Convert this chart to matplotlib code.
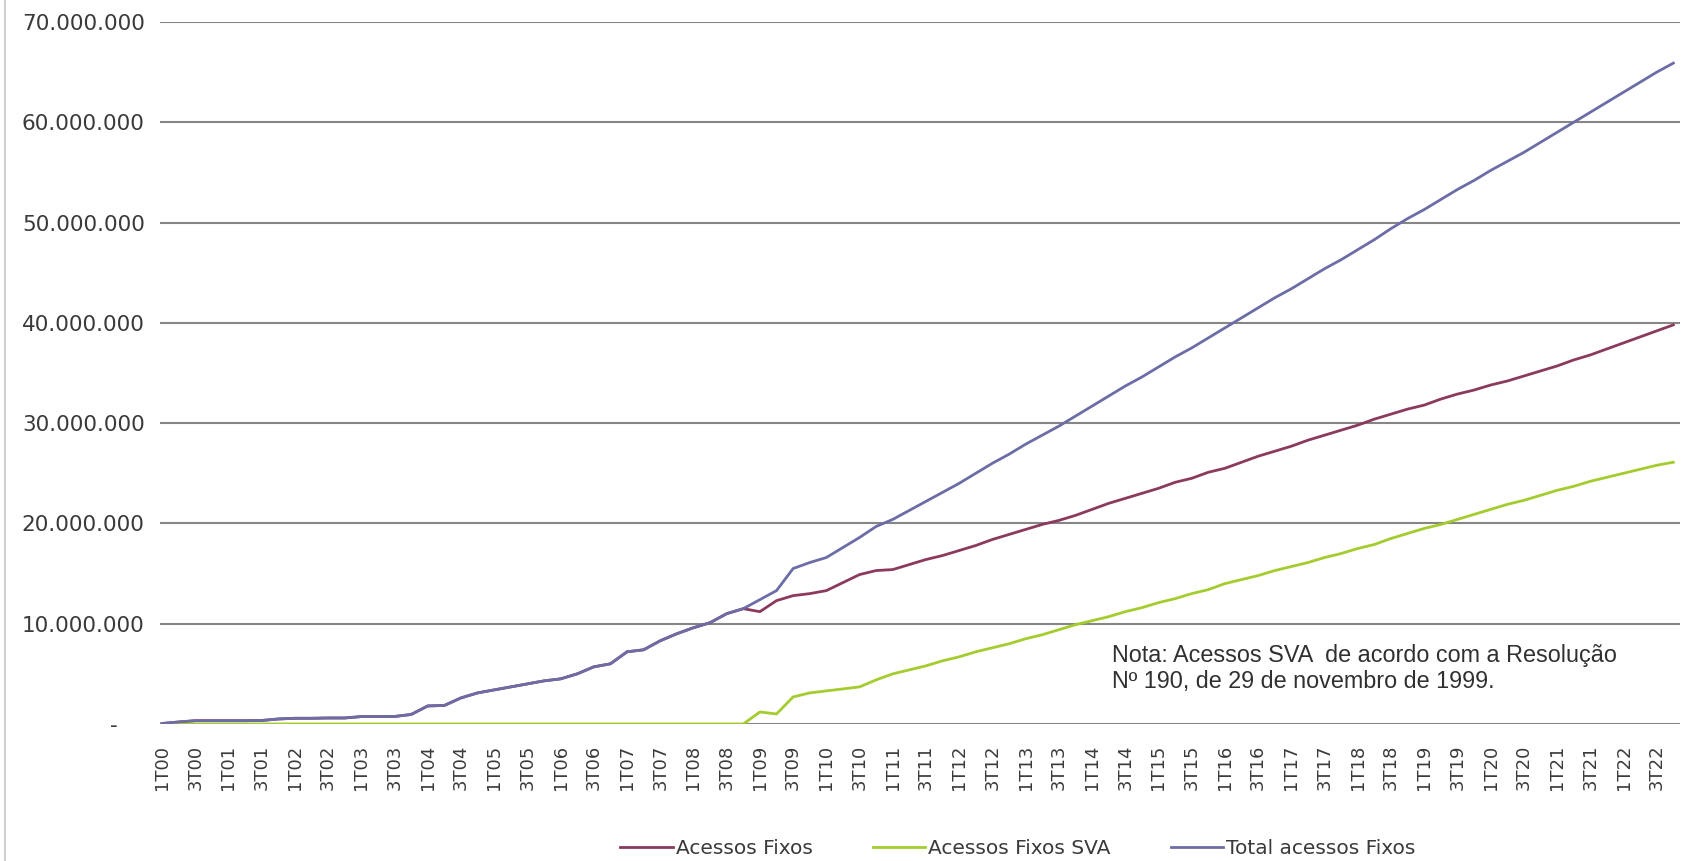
import numpy as np
import matplotlib
matplotlib.use('Agg')
import matplotlib.pyplot as plt
from matplotlib.ticker import FuncFormatter

# Trimestres de 1T00 a 4T22
trimestres = [f"{q}T{a:02d}" for a in range(0, 23) for q in range(1, 5)]

# Valores em milhões de acessos
total = [0.05, 0.2, 0.33, 0.33, 0.33, 0.33, 0.35, 0.5, 0.57, 0.57,
         0.6, 0.6, 0.74, 0.74, 0.75, 0.95, 1.8, 1.85, 2.6, 3.1,
         3.4, 3.7, 4.0, 4.3, 4.5, 5.0, 5.7, 6.0, 7.2, 7.4,
         8.3, 9.0, 9.6, 10.1, 11.0, 11.5, 12.4, 13.3, 15.5, 16.1,
         16.6, 17.6, 18.6, 19.7, 20.4, 21.3, 22.2, 23.1, 24.0, 25.0,
         26.0, 26.9, 27.9, 28.8, 29.7, 30.7, 31.7, 32.7, 33.7, 34.6,
         35.6, 36.6, 37.5, 38.5, 39.5, 40.5, 41.5, 42.5, 43.4, 44.4,
         45.4, 46.3, 47.3, 48.3, 49.4, 50.4, 51.3, 52.3, 53.3, 54.2,
         55.2, 56.1, 57.0, 58.0, 59.0, 60.0, 61.0, 62.0, 63.0, 64.0,
         65.0, 65.9]

sva = [0.0] * 36 + [
         1.2, 1.0, 2.7, 3.1, 3.3, 3.5, 3.7, 4.4, 5.0, 5.4,
         5.8, 6.3, 6.7, 7.2, 7.6, 8.0, 8.5, 8.9, 9.4, 9.9,
         10.3, 10.7, 11.2, 11.6, 12.1, 12.5, 13.0, 13.4, 14.0, 14.4,
         14.8, 15.3, 15.7, 16.1, 16.6, 17.0, 17.5, 17.9, 18.5, 19.0,
         19.5, 19.9, 20.4, 20.9, 21.4, 21.9, 22.3, 22.8, 23.3, 23.7,
         24.2, 24.6, 25.0, 25.4, 25.8, 26.1]

fixos = [0.05, 0.2, 0.33, 0.33, 0.33, 0.33, 0.35, 0.5, 0.57, 0.57,
         0.6, 0.6, 0.74, 0.74, 0.75, 0.95, 1.8, 1.85, 2.6, 3.1,
         3.4, 3.7, 4.0, 4.3, 4.5, 5.0, 5.7, 6.0, 7.2, 7.4,
         8.3, 9.0, 9.6, 10.1, 11.0, 11.5, 11.2, 12.3, 12.8, 13.0,
         13.3, 14.1, 14.9, 15.3, 15.4, 15.9, 16.4, 16.8, 17.3, 17.8,
         18.4, 18.9, 19.4, 19.9, 20.3, 20.8, 21.4, 22.0, 22.5, 23.0,
         23.5, 24.1, 24.5, 25.1, 25.5, 26.1, 26.7, 27.2, 27.7, 28.3,
         28.8, 29.3, 29.8, 30.4, 30.9, 31.4, 31.8, 32.4, 32.9, 33.3,
         33.8, 34.2, 34.7, 35.2, 35.7, 36.3, 36.8, 37.4, 38.0, 38.6,
         39.2, 39.8]

x = np.arange(len(trimestres))
esc = 1e6

fig = plt.figure(figsize=(16.86, 8.61), dpi=100)
ax = fig.add_axes([160 / 1686, 1 - 724 / 861, 1520 / 1686, 702 / 861])

ax.plot(x, np.array(fixos) * esc, color='#8B3A5E', lw=2.0, label='Acessos Fixos')
ax.plot(x, np.array(sva) * esc, color='#A4CC2E', lw=2.0, label='Acessos Fixos SVA')
ax.plot(x, np.array(total) * esc, color='#6C6CA6', lw=2.0, label='Total acessos Fixos')

ax.set_xlim(-0.12, 91.4)
ax.set_ylim(0, 70e6)
ax.set_yticks(np.arange(0, 70e6 + 1, 10e6))
# formato contabil: zero vira "-"
ax.yaxis.set_major_formatter(FuncFormatter(
    lambda v, p: '-\u2007\u2007' if v == 0 else f"{int(v):,}".replace(',', '.')))
ax.set_xticks(x[::2])
ax.set_xticklabels(trimestres[::2], rotation=90)

ax.grid(axis='y', color='#868686', lw=1.5)
ax.set_axisbelow(True)
for s in ax.spines.values():
    s.set_visible(False)
ax.tick_params(axis='y', length=0, pad=11, labelsize=15.5, labelcolor='#3a3a3a')
ax.tick_params(axis='x', length=0, pad=15, labelsize=13, labelcolor='#3a3a3a')

ax.text(0.626, 0.079, 'Nota: Acessos SVA  de acordo com a Resolução\nNº 190, de 29 de novembro de 1999.',
        transform=ax.transAxes, fontsize=16.8, family='Liberation Sans', color='#303030',
        va='center', ha='left', linespacing=1.15)

fig.legend(loc='center', bbox_to_anchor=(1018 / 1686, 1 - 849 / 861), ncol=3,
           frameon=False, fontsize=14.5, handlelength=2.6, handletextpad=0.15,
           columnspacing=3.0, labelcolor='#3a3a3a')

fig.add_artist(plt.Line2D([0.003, 0.003], [0, 1], color='#d0d0d0', lw=1.5))

fig.savefig('out.png', dpi=100)
